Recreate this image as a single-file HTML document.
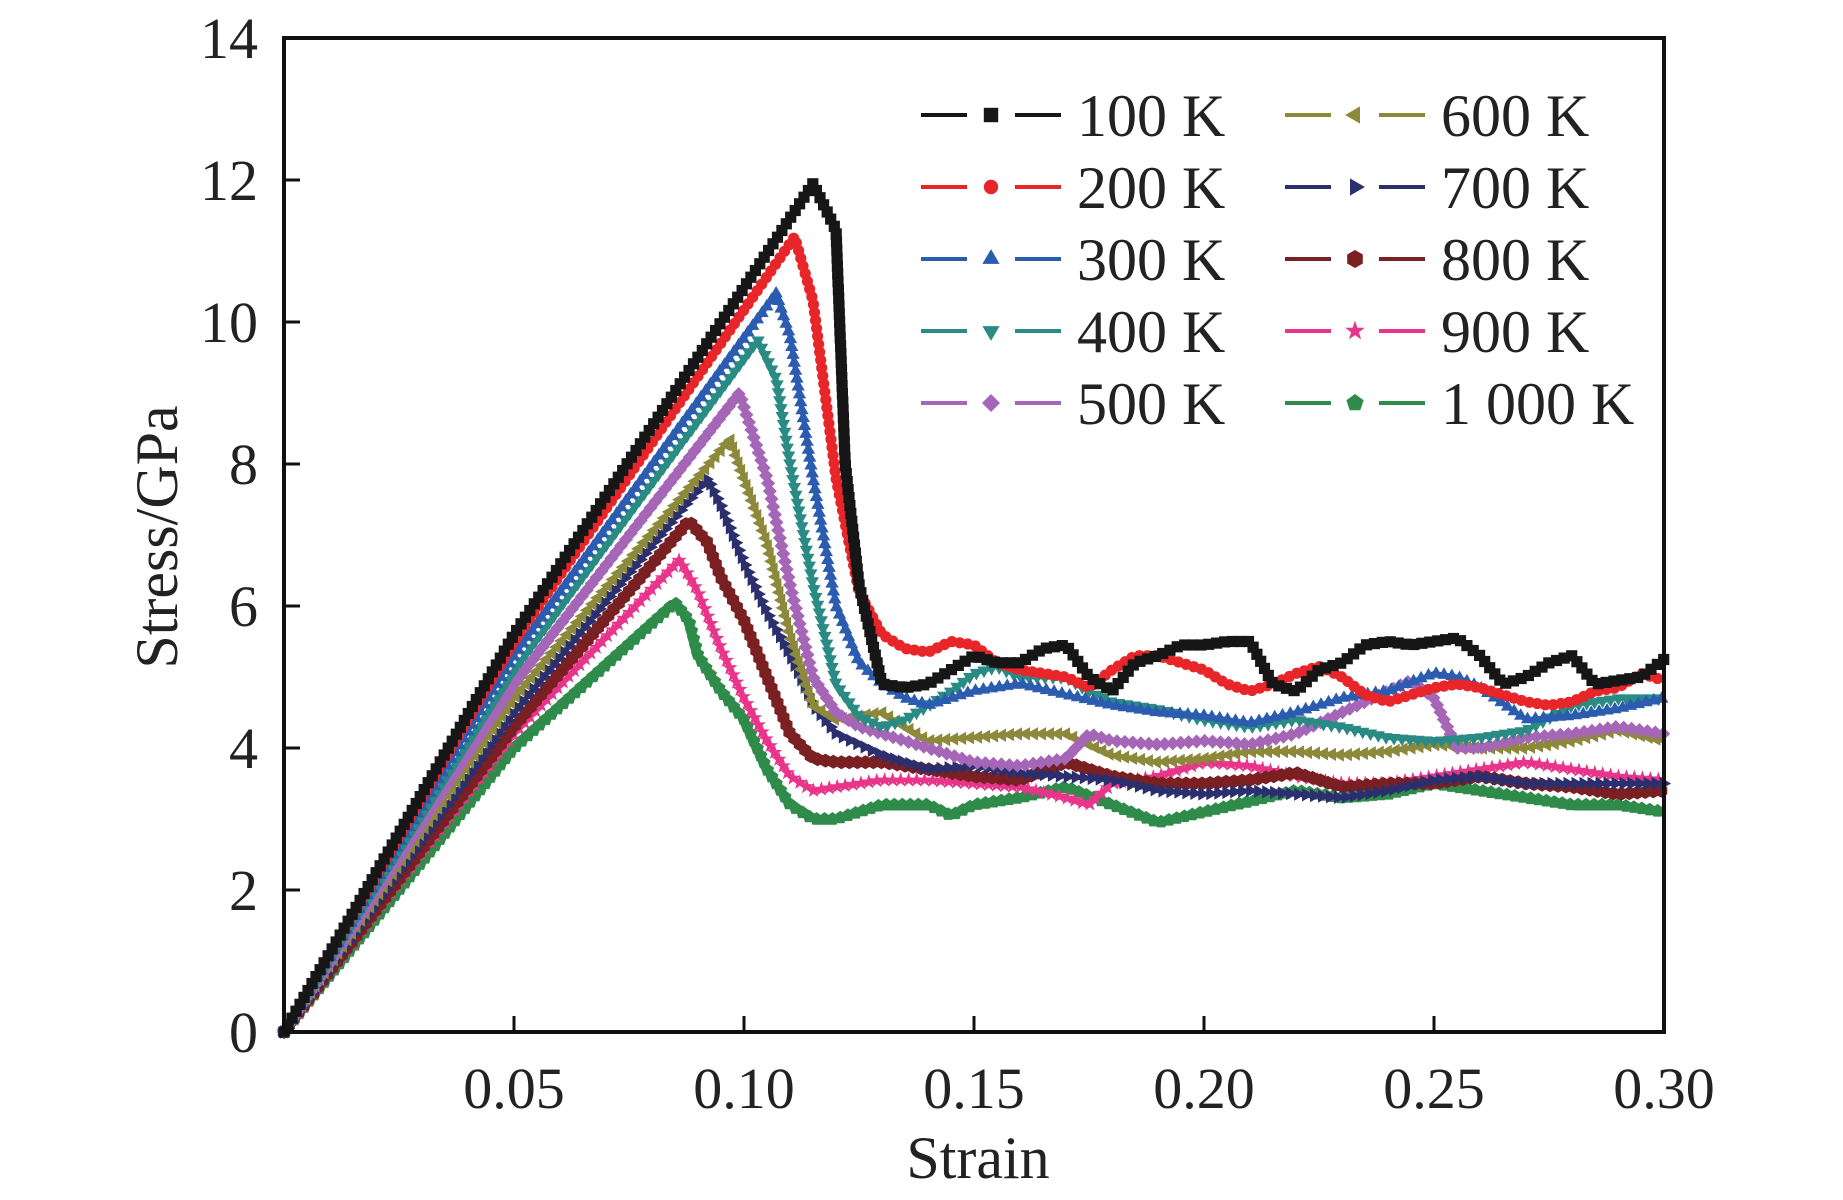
<!DOCTYPE html>
<html><head><meta charset="utf-8"><style>
html,body{margin:0;padding:0;background:#fff;}
svg{display:block;font-family:"Liberation Serif",serif;}
</style></head><body>
<svg id="chart" width="1843" height="1200"></svg>
<script>
const seriesNames=["100 K","200 K","300 K","400 K","500 K","600 K","700 K","800 K","900 K","1 000 K"];
const xTicks=[0.05,0.10,0.15,0.20,0.25,0.30];
const xTickLabels=["0.05","0.10","0.15","0.20","0.25","0.30"];
const yTicks=[0,2,4,6,8,10,12,14];
const s100x=[0,0.025,0.05,0.115,0.12,0.122,0.125,0.13,0.135,0.14,0.145,0.15,0.155,0.16,0.165,0.17,0.175,0.18,0.185,0.19,0.195,0.2,0.205,0.21,0.215,0.22,0.225,0.23,0.235,0.24,0.245,0.25,0.255,0.26,0.265,0.27,0.275,0.28,0.285,0.29,0.295,0.3];
const s100y=[0,2.8,5.6,11.95,11.3,8,6.3,4.9,4.85,4.9,5.1,5.3,5.2,5.2,5.4,5.45,5.0,4.8,5.2,5.3,5.45,5.45,5.5,5.5,4.9,4.8,5.1,5.2,5.45,5.5,5.45,5.5,5.55,5.3,4.9,5.0,5.2,5.3,4.9,4.95,5.0,5.25];
const s200x=[0,0.025,0.05,0.111,0.115,0.12,0.125,0.13,0.135,0.14,0.145,0.15,0.155,0.16,0.17,0.175,0.18,0.185,0.19,0.195,0.2,0.205,0.21,0.215,0.22,0.225,0.23,0.235,0.24,0.245,0.25,0.255,0.26,0.265,0.27,0.275,0.28,0.285,0.29,0.295,0.3];
const s200y=[0,2.75,5.5,11.2,10.3,7.8,6.2,5.6,5.4,5.35,5.5,5.45,5.2,5.1,5.0,4.85,5.1,5.3,5.3,5.2,5.1,4.9,4.8,4.9,5.05,5.15,5.0,4.75,4.65,4.75,4.85,4.9,4.85,4.75,4.65,4.6,4.65,4.8,4.85,5.05,4.95];
const s300x=[0,0.025,0.05,0.107,0.11,0.115,0.12,0.125,0.13,0.135,0.14,0.15,0.16,0.17,0.18,0.19,0.2,0.21,0.22,0.23,0.24,0.25,0.255,0.26,0.27,0.28,0.29,0.3];
const s300y=[0,2.65,5.3,10.4,9.8,7.8,6.0,5.2,4.9,4.7,4.6,4.8,4.9,4.75,4.6,4.5,4.45,4.35,4.5,4.7,4.8,5.05,5.0,4.85,4.4,4.45,4.55,4.7];
const s400x=[0,0.025,0.05,0.103,0.107,0.11,0.115,0.12,0.125,0.13,0.135,0.14,0.145,0.15,0.155,0.16,0.17,0.175,0.18,0.19,0.2,0.21,0.22,0.23,0.24,0.25,0.26,0.27,0.28,0.29,0.3];
const s400y=[0,2.55,5.1,9.75,9.2,8,6.3,4.9,4.45,4.3,4.4,4.6,4.8,5.05,5.15,5.0,5.0,4.8,4.65,4.55,4.4,4.3,4.4,4.3,4.15,4.1,4.15,4.25,4.6,4.7,4.7];
const s500x=[0,0.025,0.05,0.099,0.105,0.11,0.115,0.12,0.125,0.13,0.14,0.15,0.16,0.17,0.175,0.18,0.19,0.2,0.21,0.22,0.23,0.24,0.245,0.25,0.255,0.26,0.27,0.28,0.29,0.3];
const s500y=[0,2.45,4.9,9.0,7.8,6.3,5.0,4.5,4.3,4.2,4.0,3.8,3.75,3.85,4.2,4.1,4.05,4.1,4.05,4.2,4.5,4.8,4.95,4.7,4.0,4.0,4.15,4.2,4.3,4.2];
const s600x=[0,0.025,0.05,0.097,0.1,0.105,0.11,0.115,0.12,0.13,0.14,0.15,0.16,0.17,0.18,0.19,0.2,0.21,0.22,0.23,0.24,0.25,0.26,0.27,0.28,0.29,0.3];
const s600y=[0,2.35,4.7,8.35,7.8,6.9,5.6,4.6,4.4,4.5,4.1,4.15,4.2,4.2,3.9,3.8,3.85,3.95,3.95,3.9,3.95,4.05,4.0,4.0,4.1,4.25,4.1];
const s700x=[0,0.025,0.05,0.092,0.095,0.1,0.105,0.11,0.115,0.12,0.13,0.14,0.15,0.16,0.17,0.18,0.19,0.2,0.21,0.22,0.23,0.24,0.25,0.26,0.27,0.28,0.29,0.3];
const s700y=[0,2.25,4.5,7.8,7.4,6.6,5.9,5.3,4.6,4.2,3.9,3.7,3.75,3.65,3.6,3.55,3.4,3.35,3.4,3.35,3.3,3.4,3.55,3.6,3.5,3.5,3.5,3.5];
const s800x=[0,0.025,0.05,0.088,0.092,0.095,0.1,0.105,0.11,0.115,0.12,0.13,0.14,0.15,0.16,0.17,0.18,0.19,0.2,0.21,0.22,0.23,0.24,0.25,0.26,0.27,0.28,0.29,0.3];
const s800y=[0,2.15,4.3,7.2,6.9,6.4,5.8,5.0,4.2,3.85,3.8,3.8,3.7,3.6,3.55,3.8,3.6,3.5,3.5,3.55,3.65,3.45,3.5,3.5,3.6,3.5,3.45,3.35,3.4];
const s900x=[0,0.025,0.05,0.086,0.09,0.095,0.1,0.105,0.11,0.115,0.12,0.13,0.14,0.15,0.16,0.17,0.175,0.18,0.19,0.2,0.21,0.22,0.23,0.24,0.25,0.26,0.27,0.28,0.29,0.3];
const s900y=[0,2.1,4.2,6.65,6.2,5.4,4.7,4.1,3.6,3.4,3.45,3.55,3.55,3.5,3.45,3.3,3.2,3.5,3.6,3.8,3.75,3.6,3.5,3.5,3.6,3.7,3.8,3.7,3.6,3.55];
const s1000x=[0,0.025,0.05,0.085,0.088,0.09,0.095,0.1,0.105,0.11,0.115,0.12,0.13,0.14,0.145,0.15,0.16,0.17,0.18,0.19,0.2,0.21,0.22,0.23,0.24,0.25,0.26,0.27,0.28,0.29,0.3];
const s1000y=[0,2.0,4.0,6.05,5.8,5.3,4.8,4.4,3.7,3.2,3.0,3.0,3.2,3.2,3.05,3.2,3.3,3.45,3.2,2.95,3.1,3.25,3.4,3.3,3.35,3.5,3.4,3.3,3.2,3.2,3.1];

const XS=[s100x,s200x,s300x,s400x,s500x,s600x,s700x,s800x,s900x,s1000x];
const YS=[s100y,s200y,s300y,s400y,s500y,s600y,s700y,s800y,s900y,s1000y];
const colors=["#161616","#e8262a","#2b5cb0","#2a8a84","#a566b8","#8c8a3a","#2b2f6e","#7a1f22","#e8348a","#2e8b4a"];
const markers=["square","circle","tri-up","tri-down","diamond","tri-left","tri-right","hexagon","star","pentagon"];

const L=284,R=1664,T=38,B=1032;
const xs=v=>L+(v/0.30)*(R-L);
const ys=v=>B-(v/14)*(B-T);
const NS="http://www.w3.org/2000/svg";
const svg=document.getElementById("chart");
function mk(tag,attrs,parent){const e=document.createElementNS(NS,tag);for(const k in attrs)e.setAttribute(k,attrs[k]);(parent||svg).appendChild(e);return e;}

function markerPath(type,x,y,r){
  let pts=[];
  const poly=(n,rot,rad)=>{const p=[];for(let i=0;i<n;i++){const a=rot+i*2*Math.PI/n;p.push([x+rad*Math.cos(a),y+rad*Math.sin(a)]);}return p;};
  switch(type){
    case "square":pts=[[x-r*0.8,y-r*0.8],[x+r*0.8,y-r*0.8],[x+r*0.8,y+r*0.8],[x-r*0.8,y+r*0.8]];break;
    case "tri-up":pts=poly(3,-Math.PI/2,r*1.1);break;
    case "tri-down":pts=poly(3,Math.PI/2,r*1.1);break;
    case "tri-left":pts=poly(3,Math.PI,r*1.1);break;
    case "tri-right":pts=poly(3,0,r*1.1);break;
    case "diamond":pts=poly(4,0,r);break;
    case "hexagon":pts=poly(6,-Math.PI/2,r);break;
    case "pentagon":pts=poly(5,-Math.PI/2,r);break;
    case "star":{for(let i=0;i<10;i++){const a=-Math.PI/2+i*Math.PI/5;const rr=i%2?r*0.45:r*1.15;pts.push([x+rr*Math.cos(a),y+rr*Math.sin(a)]);}break;}
  }
  return "M"+pts.map(p=>p[0].toFixed(1)+","+p[1].toFixed(1)).join("L")+"Z";
}
function drawMarker(type,x,y,r,color,parent){
  if(type==="circle") return mk("circle",{cx:x,cy:y,r:r*0.8,fill:color},parent);
  return mk("path",{d:markerPath(type,x,y,r),fill:color},parent);
}

for(let s=9;s>=0;s--){
  const g=mk("g",{});
   
  const px=XS[s].map(xs), py=YS[s].map(ys);
  const d=px.map((x,i)=>(i?"L":"M")+x.toFixed(1)+","+py[i].toFixed(1)).join("");
  const line=mk("path",{d:d,fill:"none",stroke:colors[s],"stroke-width":5,"stroke-linejoin":"round"},g);
   
  const len=line.getTotalLength();
  for(let l=0;l<=len;l+=8){
    const p=line.getPointAtLength(l);
    const m=drawMarker(markers[s],p.x,p.y,7,colors[s],g);
     
  }
}

const frame=mk("rect",{x:L,y:T,width:R-L,height:B-T,fill:"none",stroke:"#111","stroke-width":4});
 

xTicks.forEach((v,i)=>{
  const x=xs(v);
  const t=mk("line",{x1:x,y1:B,x2:x,y2:B-16,stroke:"#111","stroke-width":3});
   
  const lb=mk("text",{x:x,y:1108,"text-anchor":"middle","font-size":58,fill:"#222"});
  lb.textContent=xTickLabels[i];
   
});
yTicks.forEach(v=>{
  const y=ys(v);
  const t=mk("line",{x1:L,y1:y,x2:L+16,y2:y,stroke:"#111","stroke-width":3});
   
  const lb=mk("text",{x:258,y:y+20,"text-anchor":"end","font-size":58,fill:"#222"});
  lb.textContent=String(v);
   
});
const xt=mk("text",{x:978,y:1178,"text-anchor":"middle","font-size":60,fill:"#222"});
xt.textContent="Strain";
 
const yt=mk("text",{x:0,y:0,"text-anchor":"middle","font-size":60,fill:"#222",transform:"translate(177,537) rotate(-90)"});
yt.textContent="Stress/GPa";
 

const lg=mk("g",{});
 
for(let s=0;s<10;s++){
  const col=Math.floor(s/5), row=s%5;
  const x0=col?1285:921, y=115+row*72;
  const e=mk("g",{},lg);
   
  mk("line",{x1:x0,y1:y,x2:x0+46,y2:y,stroke:colors[s],"stroke-width":4},e);
  mk("line",{x1:x0+94,y1:y,x2:x0+140,y2:y,stroke:colors[s],"stroke-width":4},e);
  drawMarker(markers[s],x0+70,y,9,colors[s],e);
  const t=mk("text",{x:x0+156,y:y+21,"font-size":60,fill:"#222"},e);
  t.textContent=seriesNames[s];
}
</script>
</body></html>
